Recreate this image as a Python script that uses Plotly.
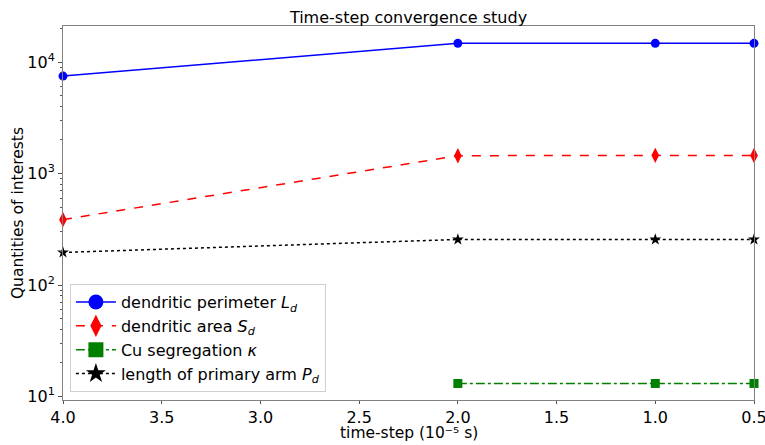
import plotly.graph_objects as go

# time-step values (units of 1e-5 s)
dt = [4.0, 2.0, 1.0, 0.5]

# quantities of interest at each time-step
perimeter = [7480, 14700, 14700, 14700]
area = [386, 1445, 1455, 1450]
segregation = [None, 13.1, 13.1, 13.1]
primary_arm = [196, 256, 256, 256]

x_ticks = [4.0, 3.5, 3.0, 2.5, 2.0, 1.5, 1.0, 0.5]
y_decades = [1, 2, 3, 4]

series = [
    ("dendritic perimeter <i>L</i><sub><i>d</i></sub>", perimeter, "#0000ff", "solid", "circle", 9, 15),
    ("dendritic area <i>S</i><sub><i>d</i></sub>", area, "#ff0000", "dash", "diamond-tall", 11, 17),
    ("Cu segregation <i>κ</i>", segregation, "#008000", "dashdot", "square", 9, 15),
    ("length of primary arm <i>P</i><sub><i>d</i></sub>", primary_arm, "#000000", "dot", "star", 9, 15),
]

fig = go.Figure()
for name, vals, color, dash, sym, msize, lsize in series:
    fig.add_trace(go.Scatter(
        x=dt, y=vals, mode="lines+markers", showlegend=False, cliponaxis=False,
        line=dict(color=color, width=1.5, dash=dash),
        marker=dict(symbol=sym, size=msize, color=color, line=dict(width=0)),
    ))
    # legend entry with a larger marker
    fig.add_trace(go.Scatter(
        x=[None], y=[None], mode="lines+markers", name=name,
        line=dict(color=color, width=1.5, dash=dash),
        marker=dict(symbol=sym, size=lsize, color=color, line=dict(width=0)),
    ))

minor_vals = [m * 10 ** d for d in [0] + y_decades for m in range(2, 10)]

fig.update_layout(
    width=765, height=445,
    margin=dict(l=63, r=11, t=26, b=45),
    paper_bgcolor="white", plot_bgcolor="white",
    font=dict(family="DejaVu Sans", size=16, color="black"),
    title=dict(text="Time-step convergence study", x=0.5, xanchor="center",
               xref="paper", y=1, yref="paper", yanchor="bottom", pad=dict(b=3),
               font=dict(size=16)),
    xaxis=dict(
        range=[4.0, 0.5], tickvals=x_ticks, ticktext=[f"{v:.1f}" for v in x_ticks],
        ticks="outside", ticklen=3, tickcolor="#555", showgrid=False, zeroline=False,
        showline=True, linecolor="#808080", linewidth=1, mirror=True, automargin=False,
        ticklabeloverflow="allow",
    ),
    yaxis=dict(
        type="log", range=[0.969, 4.323], automargin=False,
        tickvals=[10 ** d for d in y_decades],
        ticktext=[f"10<sup>{d}</sup>" for d in y_decades],
        ticks="outside", ticklen=4, tickcolor="#555", showgrid=False, zeroline=False,
        showline=True, linecolor="#808080", linewidth=1, mirror=True,
        minor=dict(tickvals=minor_vals, ticks="outside", ticklen=2, tickcolor="#555"),
    ),
    legend=dict(
        x=0.01, y=0.021, xanchor="left", yanchor="bottom",
        bgcolor="rgba(255,255,255,0.8)", bordercolor="#d0d0d0", borderwidth=1,
        font=dict(size=16), tracegroupgap=0, itemwidth=40,
    ),
    annotations=[
        dict(text="time-step (10⁻⁵ s)", xref="paper", yref="paper",
             x=0.5, y=-0.062, xanchor="center", yanchor="top", showarrow=False,
             borderpad=0, font=dict(size=15.5)),
        dict(text="Quantities of interests", xref="paper", yref="paper",
             x=-0.065, y=0.5, xanchor="center", yanchor="middle", showarrow=False,
             textangle=-90, font=dict(size=15.5)),
    ],
)

fig.write_html("out.html")
